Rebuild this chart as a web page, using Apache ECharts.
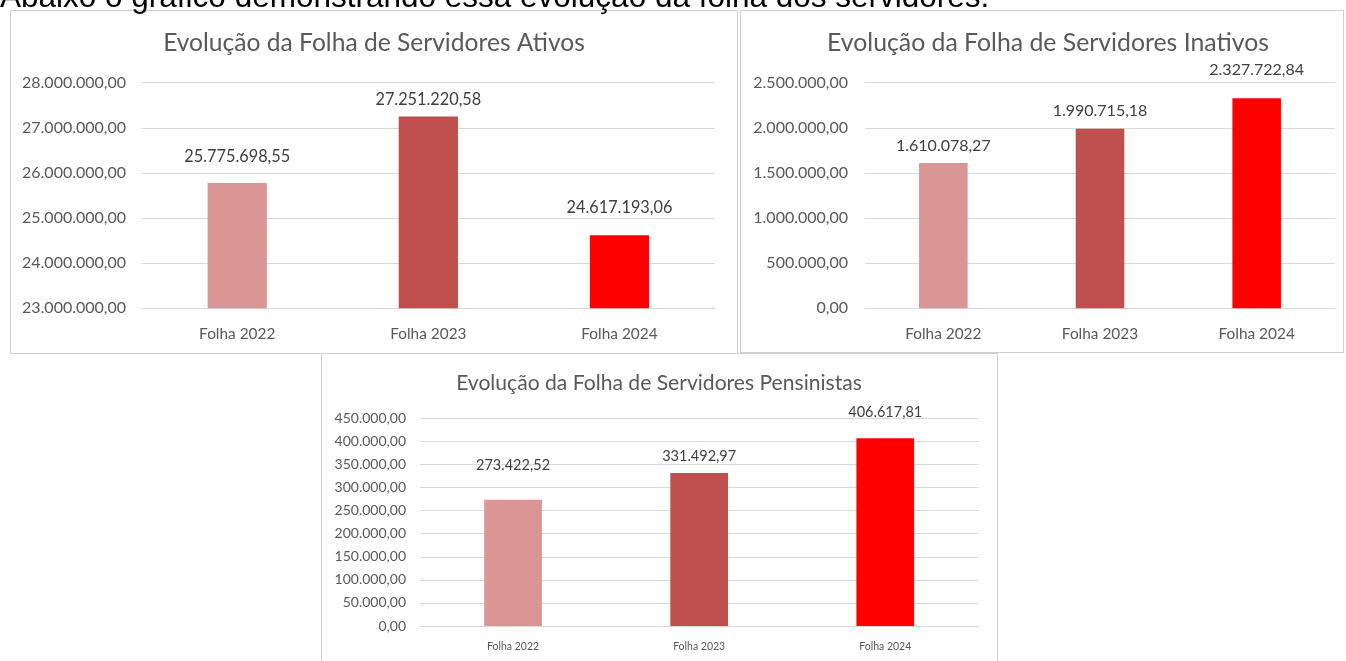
<!DOCTYPE html>
<html><head><meta charset="utf-8">
<script src="https://cdn.jsdelivr.net/npm/echarts@6/dist/echarts.min.js"></script>
<style>html,body{margin:0;padding:0;background:#fff;}#c{width:1346px;height:661px;}</style>
</head><body><div id="c"></div>
<script>
const heading = 'Abaixo o gráfico demonstrando essa evolução da folha dos servidores.';
const categories = ['Folha 2022', 'Folha 2023', 'Folha 2024'];
const titles = ['Evolução da Folha de Servidores Ativos', 'Evolução da Folha de Servidores Inativos', 'Evolução da Folha de Servidores Pensinistas'];
const ativos = [25775698.55, 27251220.58, 24617193.06];
const inativos = [1610078.27, 1990715.18, 2327722.84];
const pensionistas = [273422.52, 331492.97, 406617.81];
const axisMin = [23000000, 0, 0];
const axisMax = [28000000, 2500000, 450000];
const axisStep = [1000000, 500000, 50000];

const barColors = ['#d99694', '#c0504d', '#ff0000'];
const FONT = 'Lato';
const layout = [
  {grid:{left:141.7, top:82.7, width:573.3, height:225.6}, box:[10.5,10.5,727,343], title:[374,43,24.6], tick:16, cat:15.4, val:16.3, ym:15.7, xm:18, dist:[18,9,20]},
  {grid:{left:865, top:82.7, width:470, height:225.6}, box:[740.5,10.5,603,342], title:[1048,43,24.8], tick:16, cat:15.4, val:16, ym:17, xm:18, dist:[9,10,20]},
  {grid:{left:420, top:418.3, width:558.3, height:207.7}, box:[321.5,353.5,676,330], title:[659,383,21.1], tick:14, cat:10.5, val:14.5, ym:14, xm:15, dist:[27,9,18]}
];
const seriesData = [ativos, inativos, pensionistas];

function fmt(v){
  const p = v.toFixed(2).split('.');
  return p[0].replace(/\B(?=(\d{3})+(?!\d))/g, '.') + ',' + p[1];
}

const chart = echarts.init(document.getElementById('c'), null, {renderer:'canvas'});
const graphics = [];
layout.forEach((L, i) => {
  graphics.push({type:'rect', silent:true, z:-1, shape:{x:L.box[0], y:L.box[1], width:L.box[2], height:L.box[3]}, style:{fill:'#fff', stroke:'#d0d0d0', lineWidth:1}});
  graphics.push({type:'text', silent:true, x:L.title[0], y:L.title[1], style:{text:titles[i], font:L.title[2]+'px '+FONT, fill:'#595959', align:'center', verticalAlign:'middle'}});
});
graphics.push({type:'text', silent:true, x:0, y:-1.5, style:{text:heading, font:'31.5px "Liberation Sans"', fill:'#000', align:'left', verticalAlign:'middle'}});

const option = {
  animation:false,
  backgroundColor:'#fff',
  grid: layout.map(L => L.grid),
  xAxis: layout.map((L, i) => ({
    type:'category', gridIndex:i, data:categories,
    axisLine:{show:true, lineStyle:{color:'#d9d9d9', width:1}},
    axisTick:{show:false},
    axisLabel:{color:'#595959', fontFamily:FONT, fontSize:L.cat, margin:L.xm}
  })),
  yAxis: layout.map((L, i) => ({
    type:'value', gridIndex:i, min:axisMin[i], max:axisMax[i], interval:axisStep[i],
    axisLine:{show:false}, axisTick:{show:false},
    splitLine:{lineStyle:{color:'#d9d9d9', width:1}},
    axisLabel:{color:'#595959', fontFamily:FONT, fontSize:L.tick, margin:L.ym, formatter:fmt}
  })),
  series: seriesData.map((arr, i) => ({
    type:'bar', xAxisIndex:i, yAxisIndex:i, barWidth:'31%',
    data: arr.map((v, j) => ({
      value:v,
      itemStyle:{color:barColors[j]},
      label:{show:true, position:'top', distance:layout[i].dist[j], color:'#404040', fontFamily:FONT, fontSize:layout[i].val, formatter:p => fmt(p.value)}
    }))
  })),
  graphic: graphics
};
chart.setOption(option);
</script></body></html>
